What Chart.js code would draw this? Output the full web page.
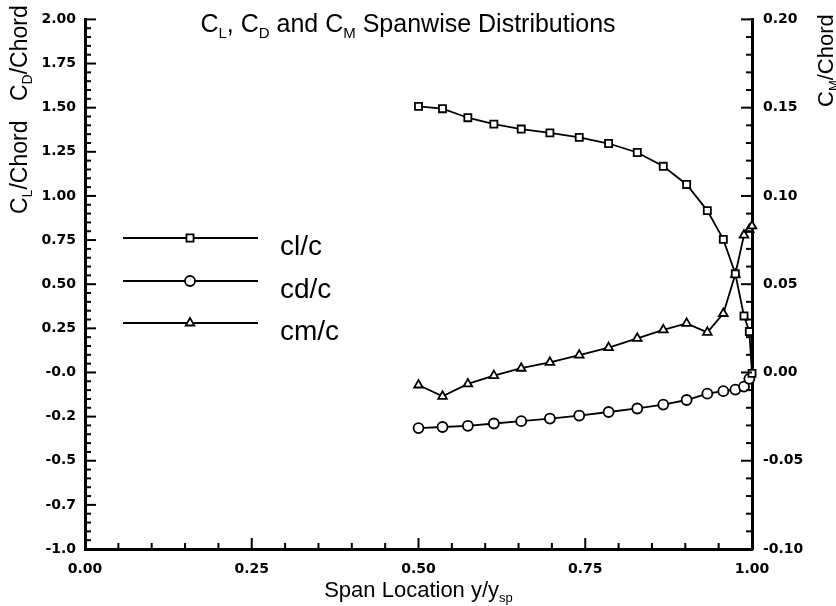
<!DOCTYPE html>
<html>
<head>
<meta charset="utf-8">
<script src="https://cdn.jsdelivr.net/npm/chart.js@4"></script>
<style>
  html, body { margin: 0; padding: 0; background: #fff; }
</style>
</head>
<body>
<canvas id="chart" width="836" height="606"></canvas>
<script>
// span stations (y/ysp) shared by the three curves
const spanX = [0.500, 0.536, 0.574, 0.613, 0.654, 0.697, 0.741, 0.785, 0.828,
               0.867, 0.902, 0.933, 0.957, 0.975, 0.988, 0.996, 1.000];
const clValues = [1.507, 1.494, 1.443, 1.407, 1.379, 1.357, 1.332, 1.297, 1.246,
                  1.168, 1.065, 0.917, 0.754, 0.559, 0.320, 0.232, -0.005];
const cdValues = [-0.315, -0.309, -0.302, -0.289, -0.276, -0.261, -0.244, -0.224, -0.204,
                  -0.182, -0.156, -0.120, -0.106, -0.097, -0.080, -0.036];
const cmValues = [-0.0071, -0.0135, -0.0065, -0.0018, 0.0024, 0.0057, 0.0098, 0.0141, 0.0193,
                  0.0241, 0.0278, 0.0227, 0.0334, 0.0556, 0.0778, 0.0810, 0.0830];

const xTickLabels = ['0.00', '0.25', '0.50', '0.75', '1.00'];
const leftTickLabels = ['-1.0', '-0.7', '-0.5', '-0.2', '-0.0', '0.25', '0.50', '0.75',
                        '1.00', '1.25', '1.50', '1.75', '2.00'];
const rightTickLabels = ['-0.10', '-0.05', '0.00', '0.05', '0.10', '0.15', '0.20'];

const seriesNames = ['cl/c', 'cd/c', 'cm/c'];
const seriesMarkers = ['rect', 'circle', 'triangle'];

function toPoints(values) {
    return values.map((v, i) => ({ x: spanX[i], y: v }));
}

const tickFont = { family: 'DejaVu Sans', size: 14, weight: 'bold' };
const textFont = '"Liberation Sans", Arial, sans-serif';

// draws text made of [string, isSubscript] parts
function drawParts(ctx, parts, x, y, size, align) {
    const subSize = Math.round(size * 0.6);
    let total = 0;
    parts.forEach(p => {
        ctx.font = (p[1] ? subSize : size) + 'px ' + textFont;
        total += ctx.measureText(p[0]).width;
    });
    let cx = align === 'center' ? x - total / 2 : x;
    ctx.textAlign = 'left';
    ctx.textBaseline = 'alphabetic';
    parts.forEach(p => {
        ctx.font = (p[1] ? subSize : size) + 'px ' + textFont;
        ctx.fillText(p[0], cx, p[1] ? y + size * 0.22 : y);
        cx += ctx.measureText(p[0]).width;
    });
}

function tickMarks(ctx, scale, min, count, step, majorEvery, side) {
    for (let i = 0; i <= count; i++) {
        const v = min + i * step;
        const len = i % majorEvery === 0 ? 11 : 6;
        const p = scale.getPixelForValue(v);
        ctx.beginPath();
        if (side === 'left') { ctx.moveTo(scale.right, p); ctx.lineTo(scale.right + len, p); }
        if (side === 'right') { ctx.moveTo(scale.left, p); ctx.lineTo(scale.left - len, p); }
        if (side === 'bottom') { ctx.moveTo(p, scale.top); ctx.lineTo(p, scale.top - len); }
        ctx.stroke();
    }
}

const decorPlugin = {
    id: 'decor',
    afterDraw(chart) {
        const ctx = chart.ctx;
        const area = chart.chartArea;
        ctx.save();
        ctx.strokeStyle = '#000';
        ctx.fillStyle = '#000';
        ctx.lineWidth = 2;
        tickMarks(ctx, chart.scales.x, 0, 20, 0.05, 5, 'bottom');
        tickMarks(ctx, chart.scales.y, -1, 60, 0.05, 5, 'left');
        tickMarks(ctx, chart.scales.y2, -0.1, 30, 0.01, 5, 'right');

        // legend
        const legendY = [238, 281, 323];
        seriesNames.forEach((name, i) => {
            const y = legendY[i];
            ctx.lineWidth = 1.8;
            ctx.strokeStyle = '#000';
            ctx.beginPath();
            ctx.moveTo(area.left + 38, y);
            ctx.lineTo(area.left + 173, y);
            ctx.stroke();
            ctx.fillStyle = '#fff';
            Chart.helpers.drawPoint(ctx, { pointStyle: seriesMarkers[i], radius: 5, borderWidth: 1.8 },
                area.left + 105, y);
            ctx.fillStyle = '#000';
            ctx.font = '28px ' + textFont;
            ctx.textAlign = 'left';
            ctx.textBaseline = 'alphabetic';
            ctx.fillText(name, area.left + 195, y + 17);
        });

        // title
        ctx.fillStyle = '#000';
        drawParts(ctx, [['C', 0], ['L', 1], [', C', 0], ['D', 1], [' and C', 0], ['M', 1],
                        [' Spanwise Distributions', 0]], 408, 32, 25, 'center');

        // x axis title
        drawParts(ctx, [['Span Location y/y', 0], ['sp', 1]], (area.left + area.right) / 2, 597, 22, 'center');

        // left axis titles
        ctx.save();
        ctx.translate(27, 214);
        ctx.rotate(-Math.PI / 2);
        drawParts(ctx, [['C', 0], ['L', 1], ['/Chord', 0]], 0, 0, 23, 'left');
        ctx.restore();
        ctx.save();
        ctx.translate(27, 101);
        ctx.rotate(-Math.PI / 2);
        drawParts(ctx, [['C', 0], ['D', 1], ['/Chord', 0]], 0, 0, 23, 'left');
        ctx.restore();

        // right axis title
        ctx.save();
        ctx.translate(833, 107);
        ctx.rotate(-Math.PI / 2);
        drawParts(ctx, [['C', 0], ['M', 1], ['/Chord', 0]], 0, 0, 22, 'left');
        ctx.restore();
        ctx.restore();
    }
};

const lineStyle = {
    borderColor: '#000',
    borderWidth: 1.8,
    pointBackgroundColor: '#fff',
    pointBorderColor: '#000',
    pointBorderWidth: 1.8,
    pointRadius: 5,
    tension: 0,
    clip: false
};

new Chart(document.getElementById('chart'), {
    type: 'line',
    data: {
        datasets: [
            Object.assign({ label: seriesNames[0], data: toPoints(clValues), pointStyle: seriesMarkers[0], yAxisID: 'y' }, lineStyle),
            Object.assign({ label: seriesNames[1], data: toPoints(cdValues), pointStyle: seriesMarkers[1], yAxisID: 'y' }, lineStyle),
            Object.assign({ label: seriesNames[2], data: toPoints(cmValues), pointStyle: seriesMarkers[2], yAxisID: 'y2' }, lineStyle)
        ]
    },
    options: {
        responsive: false,
        animation: false,
        layout: { padding: { top: 9, left: 0, right: 0, bottom: 0 } },
        plugins: { legend: { display: false }, tooltip: { enabled: false } },
        scales: {
            x: {
                type: 'linear',
                min: 0, max: 1,
                afterFit: s => { s.height = 57; },
                ticks: {
                    stepSize: 0.25,
                    padding: 12,
                    color: '#000',
                    font: tickFont,
                    maxRotation: 0,
                    callback: v => xTickLabels[Math.round(v / 0.25)]
                },
                grid: { drawOnChartArea: false, drawTicks: false },
                border: { display: true, width: 3, color: '#000' }
            },
            y: {
                position: 'left',
                min: -1, max: 2,
                afterFit: s => { s.width = 85; },
                ticks: {
                    stepSize: 0.25,
                    padding: 9,
                    color: '#000',
                    font: tickFont,
                    callback: v => leftTickLabels[Math.round((v + 1) / 0.25)]
                },
                grid: { drawOnChartArea: false, drawTicks: false },
                border: { display: true, width: 3, color: '#000' }
            },
            y2: {
                position: 'right',
                min: -0.1, max: 0.2,
                afterFit: s => { s.width = 84; },
                ticks: {
                    stepSize: 0.05,
                    padding: 11,
                    color: '#000',
                    font: tickFont,
                    callback: v => rightTickLabels[Math.round((v + 0.1) / 0.05)]
                },
                grid: { drawOnChartArea: false, drawTicks: false },
                border: { display: true, width: 3, color: '#000' }
            }
        }
    },
    plugins: [decorPlugin]
});
</script>
</body>
</html>
